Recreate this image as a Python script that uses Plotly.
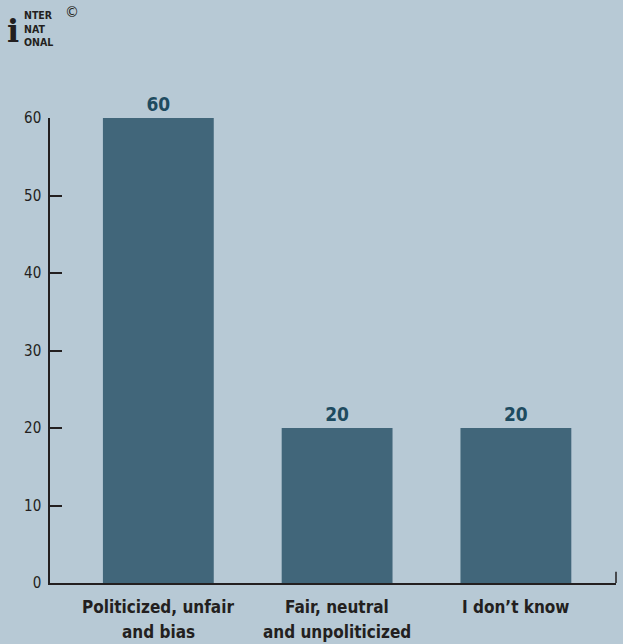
import plotly.graph_objects as go

categories = ["Politicized, unfair<br>and bias", "Fair, neutral<br>and unpoliticized", "I don’t know"]
values = [60, 20, 20]
y_ticks = [0, 10, 20, 30, 40, 50, 60]

BG = "#b7c9d5"
BAR = "#41667a"
LABEL = "#1e4b60"
INK = "#231f20"
NARROW = "DejaVu Sans Condensed, Liberation Sans Narrow, Roboto, sans-serif"

fig = go.Figure()
fig.add_trace(go.Bar(
    x=list(range(len(categories))),
    y=values,
    width=0.62,
    marker=dict(color=BAR, line=dict(width=0)),
    text=[str(v) for v in values],
    textposition="outside",
    textfont=dict(family=NARROW, size=19, color=LABEL, weight="bold"),
    cliponaxis=False,
    hoverinfo="skip",
))

fig.update_layout(
    width=623, height=644,
    paper_bgcolor=BG, plot_bgcolor=BG,
    margin=dict(l=50, r=7, t=118, b=61),
    showlegend=False,
    xaxis=dict(
        range=[-0.606, 2.56],
        tickmode="array",
        tickvals=list(range(len(categories))),
        ticktext=[""] * len(categories),
        ticks="", showgrid=False, zeroline=False,
        showline=True, linecolor=INK, linewidth=1.5,
    ),
    yaxis=dict(
        range=[0, 60],
        tickmode="array", tickvals=y_ticks,
        ticks="inside", ticklen=12, tickwidth=1.5, tickcolor=INK,
        tickfont=dict(family=NARROW, size=15, color=INK),
        showgrid=False, zeroline=False,
        showline=True, linecolor=INK, linewidth=1.5,
        ticklabelstandoff=4,
    ),
)

# category labels, one annotation per line for wider line spacing
for i, cat in enumerate(categories):
    for j, line in enumerate(cat.split("<br>")):
        fig.add_annotation(xref="x", yref="paper", x=i, y=0, showarrow=False,
                           xanchor="center", yanchor="middle",
                           yshift=-(24 + 25 * j), borderpad=0,
                           text=f"<b>{line}</b>",
                           font=dict(family=NARROW, size=17, color=INK))

# end tick at the right of the category axis
fig.add_shape(type="line", xref="paper", yref="y",
              x0=1, x1=1, y0=0, y1=1.45,
              line=dict(color=INK, width=1.5))

# publisher mark in the top-left corner
fig.add_annotation(xref="paper", yref="paper", x=0, y=1, showarrow=False,
                   xanchor="left", yanchor="top", align="left",
                   xshift=23 - 50, yshift=118 - 8, borderpad=0,
                   text="<b>NTER<br>NAT<br>ONAL</b>",
                   font=dict(family=NARROW, size=10.5, color=INK))
fig.add_annotation(xref="paper", yref="paper", x=0, y=1, showarrow=False,
                   xanchor="left", yanchor="middle", borderpad=0,
                   xshift=6 - 50, yshift=118 - 31,
                   text="<b>i</b>",
                   font=dict(family="DejaVu Serif, serif", size=32, color=INK))
fig.add_annotation(xref="paper", yref="paper", x=0, y=1, showarrow=False,
                   xanchor="left", yanchor="middle", borderpad=0,
                   xshift=64 - 50, yshift=118 - 12,
                   text="©",
                   font=dict(family="DejaVu Sans, sans-serif", size=14, color=INK))

fig.write_html("out.html")
